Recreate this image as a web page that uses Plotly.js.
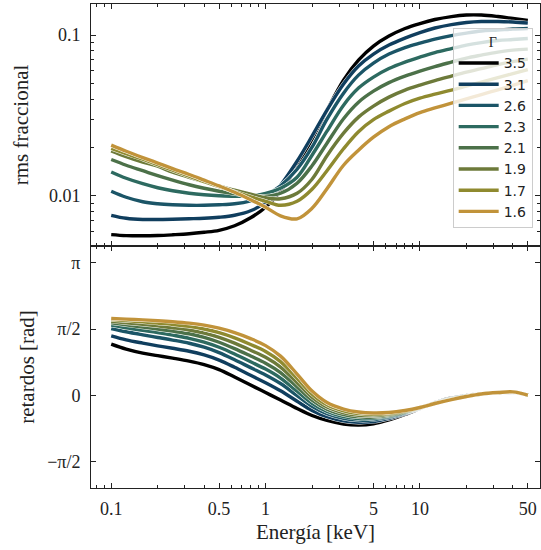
<!DOCTYPE html>
<html>
<head>
<meta charset="utf-8">
<script src="https://cdn.plot.ly/plotly-3.0.1.min.js"></script>
<style>html,body{margin:0;padding:0;background:#fff;}#chart{width:541px;height:550px;}</style>
</head>
<body>
<div id="chart"></div>
<script>
// Energy grid (keV)
const energy = [0.1, 0.125, 0.16, 0.2, 0.25, 0.32, 0.4, 0.5, 0.63, 0.8, 1, 1.25, 1.6, 2, 2.5, 3.2, 4, 5, 6.3, 8, 10, 12.5, 16, 20, 25, 32, 40, 50];

// Gamma values (legend labels)
const gammas = ['3.5', '3.1', '2.6', '2.3', '2.1', '1.9', '1.7', '1.6'];

// Fractional rms (top panel)
const rms_35 = [0.005753, 0.005671, 0.005654, 0.005679, 0.005736, 0.005819, 0.005945, 0.006118, 0.006525, 0.007317, 0.008505, 0.0107, 0.0153, 0.02254, 0.03414, 0.05248, 0.06989, 0.08541, 0.09858, 0.1098, 0.1179, 0.1249, 0.1303, 0.1332, 0.1332, 0.1303, 0.1267, 0.1231];
const rms_31 = [0.007584, 0.007265, 0.007142, 0.007142, 0.007161, 0.007213, 0.007265, 0.00737, 0.007584, 0.00809, 0.009137, 0.01166, 0.01644, 0.02352, 0.03414, 0.04956, 0.06417, 0.07616, 0.08665, 0.09579, 0.1037, 0.1106, 0.1162, 0.1196, 0.1213, 0.1213, 0.1205, 0.1188];
const rms_26 = [0.0107, 0.009815, 0.009202, 0.008943, 0.008815, 0.008752, 0.008752, 0.008815, 0.008943, 0.009335, 0.0101, 0.01157, 0.01466, 0.02009, 0.03001, 0.04356, 0.05638, 0.06694, 0.07616, 0.0836, 0.08917, 0.09443, 0.09929, 0.1029, 0.1059, 0.1074, 0.109, 0.1098];
const rms_23 = [0.0141, 0.01288, 0.01191, 0.01125, 0.01077, 0.01039, 0.01017, 0.01003, 0.009957, 0.01003, 0.01039, 0.01117, 0.01307, 0.01792, 0.02527, 0.03667, 0.0468, 0.05477, 0.06188, 0.06792, 0.07295, 0.07783, 0.08241, 0.08665, 0.08981, 0.09243, 0.09376, 0.0951];
const rms_21 = [0.01684, 0.01552, 0.01435, 0.01336, 0.01253, 0.01174, 0.01117, 0.0107, 0.01032, 0.01003, 0.009957, 0.01039, 0.012, 0.01541, 0.02128, 0.03022, 0.03829, 0.04483, 0.05063, 0.05557, 0.0597, 0.06368, 0.06792, 0.07194, 0.07508, 0.07838, 0.08066, 0.08182];
const rms_19 = [0.01905, 0.01753, 0.01621, 0.0153, 0.01404, 0.01307, 0.01226, 0.01149, 0.01085, 0.01025, 0.009745, 0.009607, 0.01039, 0.0127, 0.01779, 0.02455, 0.03089, 0.03615, 0.04113, 0.04547, 0.04885, 0.0521, 0.05557, 0.05884, 0.06188, 0.06556, 0.06841, 0.07092];
const rms_17 = [0.01972, 0.01831, 0.01692, 0.01563, 0.01445, 0.01327, 0.01226, 0.01141, 0.01062, 0.009886, 0.009268, 0.008752, 0.009268, 0.01101, 0.01435, 0.01966, 0.02509, 0.0298, 0.03367, 0.03758, 0.04055, 0.04294, 0.04547, 0.04817, 0.051, 0.05438, 0.0576, 0.06099];
const rms_16 = [0.02068, 0.01897, 0.01733, 0.01602, 0.01479, 0.01359, 0.01253, 0.01154, 0.01054, 0.009469, 0.008505, 0.00753, 0.007213, 0.008382, 0.01109, 0.01552, 0.01925, 0.02319, 0.02695, 0.03013, 0.03299, 0.03524, 0.03774, 0.04015, 0.0427, 0.04566, 0.0487, 0.0521];

// Lags in rad (bottom panel)
const lag_35 = [1.215, 1.097, 1.002, 0.943, 0.884, 0.813, 0.730, 0.611, 0.434, 0.244, 0.066, -0.111, -0.313, -0.479, -0.597, -0.680, -0.704, -0.675, -0.585, -0.455, -0.313, -0.171, -0.064, -0.005, 0.036, 0.059, 0.066, 0.007];
const lag_31 = [1.412, 1.317, 1.239, 1.175, 1.117, 1.047, 0.959, 0.837, 0.666, 0.475, 0.300, 0.108, -0.141, -0.357, -0.508, -0.606, -0.639, -0.621, -0.548, -0.435, -0.308, -0.176, -0.072, -0.010, 0.035, 0.060, 0.070, 0.007];
const lag_26 = [1.587, 1.509, 1.436, 1.374, 1.312, 1.236, 1.142, 1.014, 0.845, 0.657, 0.484, 0.280, -0.006, -0.261, -0.437, -0.547, -0.589, -0.579, -0.519, -0.419, -0.304, -0.180, -0.078, -0.014, 0.034, 0.062, 0.072, 0.007];
const lag_23 = [1.666, 1.602, 1.543, 1.490, 1.428, 1.353, 1.264, 1.142, 0.982, 0.795, 0.623, 0.410, 0.096, -0.189, -0.384, -0.503, -0.550, -0.547, -0.497, -0.408, -0.301, -0.183, -0.082, -0.017, 0.034, 0.063, 0.075, 0.007];
const lag_21 = [1.720, 1.673, 1.621, 1.573, 1.523, 1.461, 1.376, 1.260, 1.109, 0.933, 0.762, 0.540, 0.198, -0.116, -0.331, -0.458, -0.512, -0.515, -0.474, -0.396, -0.298, -0.185, -0.087, -0.019, 0.033, 0.063, 0.077, 0.007];
const lag_19 = [1.760, 1.723, 1.685, 1.648, 1.605, 1.551, 1.479, 1.378, 1.240, 1.071, 0.902, 0.671, 0.301, -0.043, -0.278, -0.414, -0.473, -0.483, -0.452, -0.384, -0.295, -0.188, -0.091, -0.022, 0.032, 0.064, 0.079, 0.007];
const lag_17 = [1.800, 1.774, 1.745, 1.714, 1.681, 1.636, 1.574, 1.486, 1.364, 1.208, 1.041, 0.801, 0.403, 0.029, -0.224, -0.369, -0.435, -0.451, -0.430, -0.372, -0.292, -0.191, -0.096, -0.025, 0.032, 0.065, 0.081, 0.007];
const lag_16 = [1.824, 1.808, 1.791, 1.772, 1.748, 1.713, 1.666, 1.594, 1.488, 1.346, 1.180, 0.931, 0.505, 0.102, -0.171, -0.325, -0.396, -0.419, -0.408, -0.360, -0.289, -0.194, -0.100, -0.028, 0.031, 0.066, 0.083, 0.007];

// Axis tick labels
const xTickVals = [0.1, 0.5, 1, 5, 10, 50];
const xTickText = ['0.1', '0.5', '1', '5', '10', '50'];
const rmsTickVals = [0.01, 0.1];
const rmsTickText = ['0.01', '0.1'];
const lagTickVals = [-Math.PI / 2, 0, Math.PI / 2, Math.PI];
const lagTickText = ['\u2212\u03c0/2', '0', '\u03c0/2', '\u03c0'];

const colors = ['#000000', '#103e5e', '#1b5567', '#2d6a60', '#4c7149', '#6d7a3a', '#8f8a2f', '#c1933a'];
const rmsSeries = [rms_35, rms_31, rms_26, rms_23, rms_21, rms_19, rms_17, rms_16];
const lagSeries = [lag_35, lag_31, lag_26, lag_23, lag_21, lag_19, lag_17, lag_16];

const serif = "'Liberation Serif', 'Times New Roman', serif";
const traces = [];
const lw = 3.4, ow = 4.3;
function addPanel(series, xa, ya, legend) {
  series.forEach((ys, i) => {
    traces.push({x: energy, y: ys, xaxis: xa, yaxis: ya, type: 'scatter', mode: 'lines',
      line: {color: '#ffffff', width: ow, shape: 'spline', smoothing: 1}, showlegend: false, hoverinfo: 'skip'});
    traces.push({x: energy, y: ys, xaxis: xa, yaxis: ya, type: 'scatter', mode: 'lines', name: gammas[i],
      line: {color: colors[i], width: lw, shape: 'spline', smoothing: 1}, showlegend: legend});
  });
}
addPanel(rmsSeries, 'x', 'y', true);
addPanel(lagSeries, 'x2', 'y2', false);

const axColor = '#222222';
const common = {showline: true, linecolor: axColor, linewidth: 1, mirror: 'ticks', ticks: 'inside',
  ticklen: 5, tickwidth: 1, tickcolor: axColor, showgrid: false, zeroline: false,
  tickfont: {family: serif, size: 18, color: '#222'}};
const xMinor = {ticks: 'inside', ticklen: 3, tickwidth: 1, tickcolor: axColor, showgrid: false,
  tickmode: 'array', tickvals: [0.08, 0.09, 0.2, 0.3, 0.4, 0.6, 0.7, 0.8, 0.9, 2, 3, 4, 6, 7, 8, 9, 20, 30, 40]};

const layout = {
  width: 541, height: 550,
  margin: {l: 91, r: 1, t: 4, b: 62},
  paper_bgcolor: '#ffffff', plot_bgcolor: '#ffffff',
  font: {family: serif, size: 18, color: '#222'},
  xaxis: Object.assign({}, common, {type: 'log', range: [-1.131, 1.778], anchor: 'y', domain: [0, 1],
    tickmode: 'array', tickvals: xTickVals, ticktext: xTickText, showticklabels: false, minor: xMinor}),
  xaxis2: Object.assign({}, common, {type: 'log', range: [-1.131, 1.778], anchor: 'y2', matches: 'x', domain: [0, 1],
    tickmode: 'array', tickvals: xTickVals, ticktext: xTickText, ticklabelstandoff: 4, minor: xMinor,
    title: {text: 'Energía [keV]', font: {family: serif, size: 21, color: '#222'}, standoff: 6}}),
  yaxis: Object.assign({}, common, {type: 'log', range: [-2.311, -0.807], domain: [0.5, 1], anchor: 'x',
    tickmode: 'array', tickvals: rmsTickVals, ticktext: rmsTickText, ticklabelstandoff: 6,
    minor: {ticks: 'inside', ticklen: 3, tickwidth: 1, tickcolor: axColor, showgrid: false, tickmode: 'array',
      tickvals: [0.006, 0.007, 0.008, 0.009, 0.02, 0.03, 0.04, 0.05, 0.06, 0.07, 0.08, 0.09]},
    title: {text: 'rms fraccional', font: {family: serif, size: 21, color: '#222'}, standoff: 14}}),
  yaxis2: Object.assign({}, common, {range: [-2.20, 3.545], domain: [0, 0.5], anchor: 'x2',
    tickmode: 'array', tickvals: lagTickVals, ticktext: lagTickText, ticklabelstandoff: 6,
    title: {text: 'retardos [rad]', font: {family: serif, size: 21, color: '#222'}, standoff: 6}}),
  legend: {x: 0.9837, y: 0.95, xanchor: 'right', yanchor: 'top',
    bgcolor: 'rgba(255,255,255,0.8)', bordercolor: '#cccccc', borderwidth: 1,
    font: {family: 'DejaVu Sans, sans-serif', size: 14, color: '#222'},
    title: {text: '\u0393', side: 'top center', font: {family: serif, size: 14, color: '#222'}},
    itemwidth: 40, tracegroupgap: 0},
  showlegend: true
};

Plotly.newPlot('chart', traces, layout, {displayModeBar: false, staticPlot: true});
</script>
</body>
</html>
